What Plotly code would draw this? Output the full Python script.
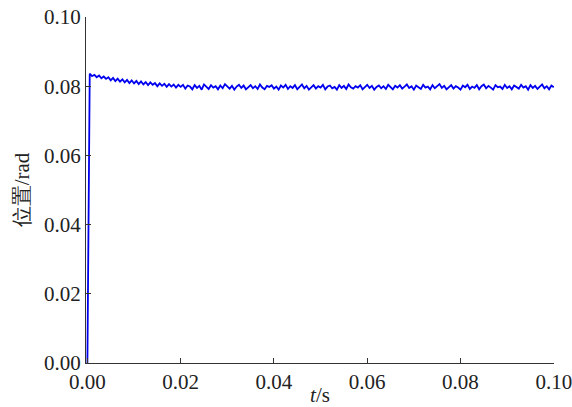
import plotly.graph_objects as go

# sampling grid (s): start at 0, then every 0.5 ms up to 0.1 s
time_s = [0.0] + [round(0.0005 * k, 4) for k in range(1, 201)]

# position readings (rad)
position_rad = [0.0,
    0.0836, 0.0829, 0.0833, 0.0826, 0.0831, 0.0823, 0.0828, 0.0821, 0.0826, 0.0817,
    0.0824, 0.0815, 0.0822, 0.0813, 0.0820, 0.0811, 0.0818, 0.0809, 0.0817, 0.0808,
    0.0815, 0.0806, 0.0814, 0.0805, 0.0812, 0.0803, 0.0811, 0.0804, 0.0809, 0.0800,
    0.0808, 0.0801, 0.0807, 0.0798, 0.0806, 0.0799, 0.0805, 0.0796, 0.0804, 0.0798,
    0.0804, 0.0793, 0.0802, 0.0799, 0.0791, 0.0803, 0.0795, 0.0801, 0.0790, 0.0805,
    0.0797, 0.0792, 0.0803, 0.0796, 0.0800, 0.0791, 0.0802, 0.0794, 0.0806, 0.0798,
    0.0793, 0.0801, 0.0790, 0.0799, 0.0804, 0.0795, 0.0802, 0.0791, 0.0797, 0.0803,
    0.0794, 0.0800, 0.0792, 0.0805, 0.0796, 0.0791, 0.0801, 0.0798, 0.0803, 0.0793,
    0.0799, 0.0790, 0.0802, 0.0796, 0.0804, 0.0792, 0.0800, 0.0795, 0.0803, 0.0791,
    0.0798, 0.0805, 0.0794, 0.0801, 0.0790, 0.0797, 0.0803, 0.0793, 0.0800, 0.0796,
    0.0804, 0.0791, 0.0799, 0.0802, 0.0794, 0.0798, 0.0790, 0.0803, 0.0795, 0.0801,
    0.0792, 0.0805, 0.0797, 0.0793, 0.0800, 0.0796, 0.0803, 0.0791, 0.0799, 0.0804,
    0.0795, 0.0801, 0.0790, 0.0798, 0.0802, 0.0794, 0.0800, 0.0792, 0.0804, 0.0797,
    0.0791, 0.0801, 0.0796, 0.0803, 0.0793, 0.0799, 0.0805, 0.0795, 0.0800, 0.0790,
    0.0802, 0.0797, 0.0792, 0.0804, 0.0796, 0.0799, 0.0791, 0.0803, 0.0794, 0.0800,
    0.0806, 0.0795, 0.0801, 0.0791, 0.0798, 0.0803, 0.0793, 0.0800, 0.0796, 0.0790,
    0.0802, 0.0797, 0.0804, 0.0792, 0.0799, 0.0795, 0.0803, 0.0791, 0.0800, 0.0805,
    0.0794, 0.0801, 0.0796, 0.0790, 0.0803, 0.0797, 0.0799, 0.0792, 0.0804, 0.0795,
    0.0800, 0.0791, 0.0802, 0.0798, 0.0793, 0.0804, 0.0796, 0.0800, 0.0790, 0.0803,
    0.0795, 0.0801, 0.0792, 0.0799, 0.0805, 0.0794, 0.0800, 0.0791, 0.0802, 0.0797,
]

x_ticks = [0.0, 0.02, 0.04, 0.06, 0.08, 0.10]
y_ticks = [0.0, 0.02, 0.04, 0.06, 0.08, 0.10]

FONT = "Times New Roman"

fig = go.Figure()
fig.add_trace(go.Scatter(
    x=time_s, y=position_rad, mode="lines",
    line=dict(color="#0000ee", width=1.8),
    showlegend=False,
))

axis_common = dict(
    showline=True, linecolor="#333333", linewidth=1.2,
    ticks="inside", ticklen=5, tickcolor="#333333", tickwidth=1.2,
    showgrid=False, zeroline=False, mirror=False, automargin=False,
    tickfont=dict(family=FONT, size=21, color="#222222"),
    tickformat=".2f", ticklabeloverflow="allow",
)

fig.update_layout(
    width=572, height=407,
    margin=dict(l=86, r=18, t=17, b=44),
    paper_bgcolor="white", plot_bgcolor="white",
    font=dict(family=FONT, color="#222222"),
    xaxis=dict(range=[-0.0003, 0.10005], tickvals=x_ticks, **axis_common,
               title=dict(text="<i>t</i>/s", font=dict(family=FONT, size=21), standoff=8)),
    yaxis=dict(range=[0, 0.1], tickvals=y_ticks, **axis_common,
               title=dict(text="位置/rad", font=dict(family=FONT, size=21), standoff=8)),
)

fig.write_html("out.html", config={"displayModeBar": False},
               post_script="document.body.style.margin='0';")
